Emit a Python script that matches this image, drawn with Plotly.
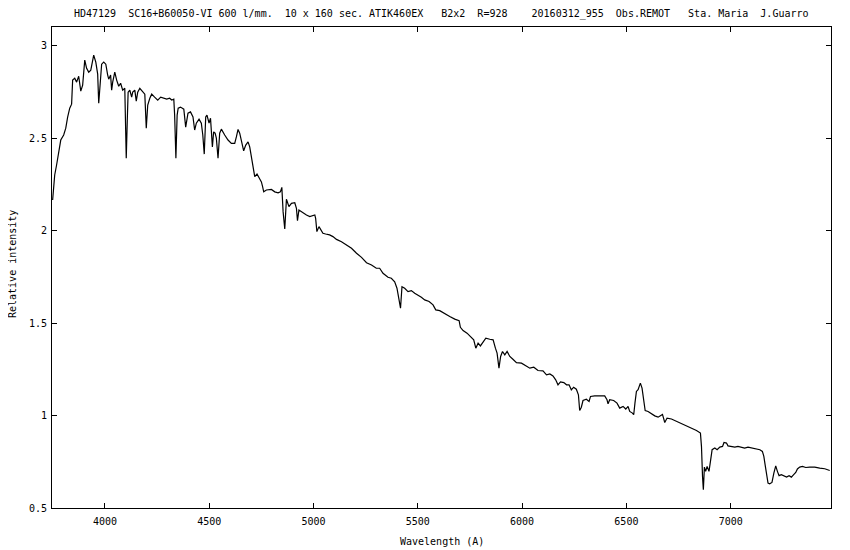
import plotly.graph_objects as go

wavelength = [
    3749, 3759, 3768, 3778, 3788, 3802, 3812, 3821, 3831, 3840,
    3845, 3855, 3864, 3874, 3884, 3893, 3898, 3903, 3912, 3922,
    3932, 3941, 3946, 3956, 3965, 3970, 3975, 3984, 3994, 4004,
    4013, 4018, 4027, 4032, 4037, 4047, 4056, 4066, 4075, 4085,
    4095, 4102, 4107, 4111, 4119, 4128, 4133, 4143, 4150, 4157,
    4167, 4176, 4191, 4198, 4205, 4215, 4224, 4238, 4253, 4267,
    4282, 4296, 4310, 4320, 4330, 4334, 4340, 4346, 4351, 4362,
    4378, 4387, 4398, 4410, 4422, 4430, 4438, 4451, 4462, 4469,
    4476, 4483, 4489, 4499, 4506, 4515, 4521, 4528, 4534, 4542,
    4550, 4558, 4574, 4590, 4606, 4622, 4630, 4638, 4646, 4654,
    4665, 4675, 4686, 4694, 4702, 4710, 4718, 4729, 4739, 4750,
    4756, 4761, 4774, 4798, 4814, 4830, 4841, 4848, 4854, 4862,
    4870, 4882, 4894, 4910, 4918, 4923, 4930, 4947, 4966, 4982,
    4998, 5006, 5010, 5016, 5026, 5034, 5045, 5058, 5077, 5093,
    5110, 5134, 5158, 5182, 5206, 5230, 5254, 5278, 5301, 5317,
    5333, 5357, 5373, 5389, 5400, 5410, 5417, 5424, 5437, 5453,
    5469, 5485, 5501, 5517, 5533, 5554, 5573, 5586, 5605, 5629,
    5653, 5677, 5698, 5704, 5717, 5736, 5752, 5768, 5778, 5789,
    5800, 5813, 5826, 5845, 5861, 5872, 5880, 5889, 5897, 5906,
    5917, 5928, 5941, 5956, 5973, 5997, 6013, 6037, 6056, 6076,
    6100, 6117, 6133, 6148, 6161, 6172, 6184, 6200, 6213, 6225,
    6236, 6247, 6260, 6270, 6276, 6284, 6292, 6308, 6321, 6328,
    6348, 6372, 6396, 6407, 6412, 6420, 6439, 6455, 6468, 6484,
    6497, 6508, 6516, 6529, 6535, 6541, 6548, 6556, 6567, 6575,
    6583, 6590, 6604, 6620, 6636, 6652, 6673, 6684, 6695, 6716,
    6740, 6764, 6788, 6812, 6836, 6855, 6860, 6865, 6869, 6874,
    6880, 6887, 6896, 6903, 6911, 6924, 6935, 6948, 6961, 6968,
    6980, 6987, 7004, 7020, 7035, 7052, 7067, 7083, 7100, 7124,
    7140, 7152, 7159, 7165, 7172, 7179, 7187, 7198, 7207, 7216,
    7224, 7232, 7243, 7255, 7268, 7280, 7291, 7302, 7312, 7320,
    7331, 7344, 7360, 7379, 7403, 7427, 7451, 7475,
]

intensity = [
    2.165, 2.300, 2.354, 2.435, 2.489, 2.516, 2.553, 2.613, 2.661, 2.683,
    2.813, 2.823, 2.802, 2.834, 2.753, 2.786, 2.856, 2.921, 2.877, 2.856,
    2.867, 2.921, 2.948, 2.910, 2.845, 2.688, 2.759, 2.899, 2.910, 2.899,
    2.840, 2.818, 2.840, 2.759, 2.802, 2.856, 2.813, 2.780, 2.796, 2.759,
    2.769, 2.391, 2.597, 2.748, 2.759, 2.721, 2.748, 2.759, 2.699, 2.748,
    2.769, 2.759, 2.737, 2.553, 2.678, 2.715, 2.737, 2.721, 2.705, 2.721,
    2.715, 2.710, 2.715, 2.705, 2.710, 2.624, 2.391, 2.624, 2.661, 2.667,
    2.656, 2.559, 2.634, 2.641, 2.614, 2.543, 2.580, 2.602, 2.580, 2.516,
    2.413, 2.614, 2.624, 2.580, 2.607, 2.452, 2.533, 2.526, 2.499, 2.391,
    2.526, 2.548, 2.516, 2.489, 2.471, 2.471, 2.506, 2.546, 2.526, 2.479,
    2.431, 2.462, 2.479, 2.452, 2.398, 2.345, 2.291, 2.305, 2.283, 2.263,
    2.236, 2.209, 2.219, 2.222, 2.209, 2.204, 2.209, 2.233, 2.102, 2.008,
    2.169, 2.129, 2.147, 2.150, 2.120, 2.053, 2.111, 2.096, 2.084, 2.075,
    2.084, 2.084, 2.066, 1.994, 2.021, 2.003, 1.985, 1.981, 1.976, 1.967,
    1.952, 1.939, 1.922, 1.904, 1.877, 1.855, 1.826, 1.814, 1.796, 1.796,
    1.769, 1.747, 1.742, 1.723, 1.688, 1.625, 1.580, 1.696, 1.688, 1.670,
    1.675, 1.661, 1.652, 1.639, 1.625, 1.616, 1.598, 1.571, 1.567, 1.549,
    1.535, 1.521, 1.513, 1.477, 1.459, 1.445, 1.426, 1.409, 1.364, 1.391,
    1.376, 1.400, 1.418, 1.412, 1.409, 1.364, 1.337, 1.256, 1.319, 1.346,
    1.328, 1.346, 1.319, 1.304, 1.286, 1.283, 1.274, 1.256, 1.261, 1.243,
    1.241, 1.220, 1.225, 1.214, 1.193, 1.166, 1.182, 1.178, 1.166, 1.166,
    1.139, 1.153, 1.142, 1.112, 1.027, 1.045, 1.081, 1.088, 1.076, 1.103,
    1.106, 1.106, 1.106, 1.085, 1.063, 1.085, 1.081, 1.067, 1.040, 1.049,
    1.035, 1.049, 1.022, 1.013, 1.004, 1.067, 1.130, 1.139, 1.175, 1.148,
    1.076, 1.027, 1.022, 1.009, 0.998, 0.991, 1.006, 0.962, 0.986, 0.981,
    0.968, 0.959, 0.945, 0.932, 0.919, 0.905, 0.832, 0.671, 0.599, 0.721,
    0.698, 0.725, 0.698, 0.752, 0.815, 0.824, 0.815, 0.829, 0.833, 0.854,
    0.851, 0.836, 0.833, 0.829, 0.833, 0.829, 0.824, 0.829, 0.824, 0.818,
    0.815, 0.806, 0.779, 0.734, 0.680, 0.635, 0.631, 0.638, 0.689, 0.728,
    0.698, 0.675, 0.680, 0.675, 0.667, 0.675, 0.667, 0.680, 0.692, 0.711,
    0.721, 0.725, 0.719, 0.721, 0.721, 0.716, 0.712, 0.703,
]

x_ticks = [4000, 4500, 5000, 5500, 6000, 6500, 7000]
y_ticks = [0.5, 1, 1.5, 2, 2.5, 3]

title_text = ("HD47129  SC16+B60050-VI 600 l/mm.  10 x 160 sec. ATIK460EX   "
              "B2x2  R=928    20160312_955  Obs.REMOT   Sta. Maria  J.Guarro")
x_title = "Wavelength (A)"
y_title = "Relative intensity"

FONT = "DejaVu Sans Mono"

fig = go.Figure()
fig.add_trace(go.Scatter(
    x=wavelength, y=intensity, mode="lines",
    line=dict(color="black", width=1.2),
    hoverinfo="skip", showlegend=False,
))

axis_common = dict(
    showline=True, linecolor="black", linewidth=1, mirror="ticks",
    ticks="inside", ticklen=5, tickwidth=1, tickcolor="black",
    showgrid=False, zeroline=False,
    tickfont=dict(family=FONT, size=10, color="black"),
)

# the page body adds an 8 px offset, so the figure is 8 px smaller and margins shifted
fig.update_layout(
    width=842, height=542,
    margin=dict(l=44, r=19, t=19, b=42),
    paper_bgcolor="white", plot_bgcolor="white",
    xaxis=dict(range=[3746, 7481], tickvals=x_ticks,
               ticktext=[str(v) for v in x_ticks], ticklabelstandoff=4, **axis_common),
    yaxis=dict(range=[0.5, 3.1], tickvals=y_ticks,
               ticktext=[str(v) for v in y_ticks], ticklabelstandoff=2, **axis_common),
    annotations=[
        dict(text=title_text.replace(" ", "\u00a0"), x=0.5, xref="paper",
             y=1.027, yref="paper", xanchor="center", yanchor="middle",
             showarrow=False, font=dict(family=FONT, size=10, color="black")),
        dict(text=x_title.replace(" ", "\u00a0"), x=0.5, xref="paper",
             y=-0.070, yref="paper", xanchor="center", yanchor="middle",
             showarrow=False, font=dict(family=FONT, size=10, color="black")),
        dict(text=y_title.replace(" ", "\u00a0"), x=-0.0515, xref="paper",
             y=0.507, yref="paper", xanchor="center", yanchor="middle", textangle=-90,
             showarrow=False, font=dict(family=FONT, size=10, color="black")),
    ],
)

fig.write_html("out.html")
